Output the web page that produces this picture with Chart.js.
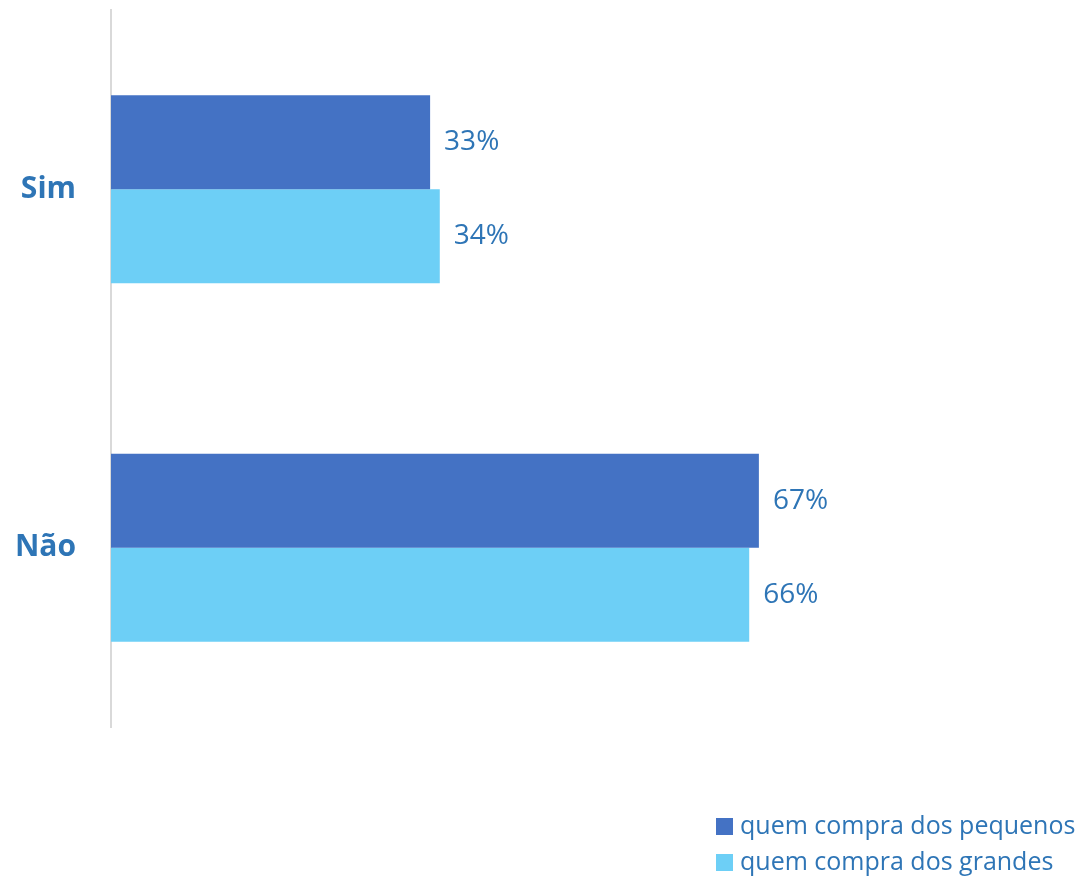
<!DOCTYPE html>
<html>
<head>
<meta charset="utf-8">
<script src="https://cdn.jsdelivr.net/npm/chart.js@4"></script>
<style>
  body { margin: 0; background: #fff; }
  #wrap { position: relative; width: 1083px; height: 880px; }
  #legend { position: absolute; left: 716px; top: 806px; font-family: "Open Sans", sans-serif; font-size: 25px; color: #2E75B6; }
  #legend div { height: 36px; line-height: 36px; white-space: nowrap; }
  #legend span.box { display: inline-block; width: 17px; height: 17px; margin-right: 7px; vertical-align: -1px; }
</style>
</head>
<body>
<div id="wrap">
  <canvas id="barChart" width="1083" height="880"></canvas>
  <div id="legend"></div>
</div>
<script>
// categories and values (percent)
const categories = ["Sim", "Não"];
const seriesNames = ["quem compra dos pequenos", "quem compra dos grandes"];
const pequenos = [33, 67];
const grandes = [34, 66];
const colors = ["#4472C4", "#6DCFF6"];
const textColor = "#2E75B6";

//draws the value text just after the end of each bar
const valueLabels = {
    id: 'valueLabels',
    afterDatasetsDraw(chart) {
        const ctx = chart.ctx;
        ctx.save();
        ctx.font = '28px "Open Sans", sans-serif';
        ctx.fillStyle = textColor;
        ctx.textAlign = 'left';
        ctx.textBaseline = 'middle';
        chart.data.datasets.forEach((ds, i) => {
            chart.getDatasetMeta(i).data.forEach((bar, j) => {
                ctx.fillText(ds.data[j] + '%', bar.x + 14, bar.y);
            });
        });
        ctx.restore();
    }
};

const ctx = document.getElementById('barChart');
const mychart = new Chart(ctx, {
    type: 'bar',
    data: {
        labels: categories,
        datasets: [
            { label: seriesNames[0], data: pequenos, backgroundColor: colors[0] },
            { label: seriesNames[1], data: grandes, backgroundColor: colors[1] }
        ]
    },
    options: {
        indexAxis: 'y',
        responsive: false,
        animation: false,
        layout: { padding: { top: 10, bottom: 153, right: 5, left: 0 } },
        datasets: { bar: { categoryPercentage: 0.524, barPercentage: 1 } },
        plugins: { legend: { display: false }, tooltip: { enabled: false } },
        scales: {
            x: { display: false, min: 0, max: 100 },
            y: {
                grid: { display: false, drawTicks: false },
                border: { display: true, color: '#D9D9D9', width: 2 },
                ticks: {
                    color: textColor,
                    padding: 35,
                    font: { family: '"Open Sans", sans-serif', size: 30, weight: 'bold' }
                },
                afterFit(scale) {
                    // the tick padding should not push the plot down
                    scale.width = 111;
                    scale.paddingTop = 0;
                    scale.paddingBottom = 0;
                }
            }
        }
    },
    plugins: [valueLabels]
});

const legend = document.getElementById('legend');
seriesNames.forEach((name, i) => {
    const row = document.createElement('div');
    row.innerHTML = '<span class="box" style="background:' + colors[i] + '"></span>' + name;
    legend.appendChild(row);
});
</script>
</body>
</html>
